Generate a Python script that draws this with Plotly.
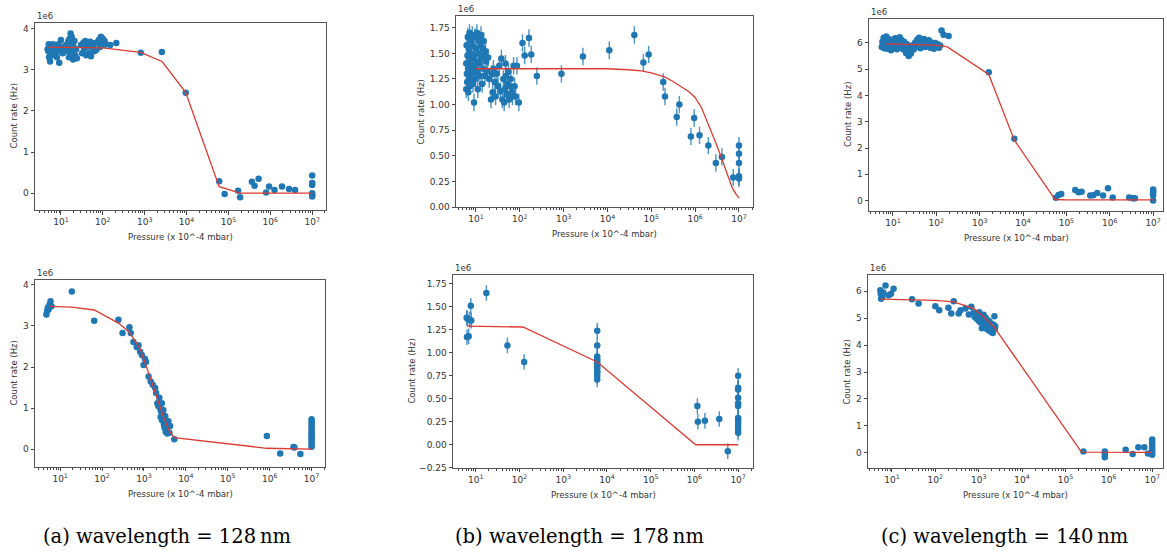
import plotly.graph_objects as go

# ---------------- data (count rate in units of 1e6 Hz, pressure in 10^-4 mbar) ----------------
# (a) wavelength = 128 nm, top
a1_x = [4.8, 5.0, 5.1, 5.2, 5.3, 5.4, 5.5, 5.6, 5.7, 5.8, 5.9, 6.1, 6.3, 6.5, 6.8, 7.0, 7.3, 7.6, 8.0, 8.4,
        8.8, 9.1, 9.5, 10.0, 10.5, 11.0,
        12, 13, 14, 15, 15.5, 16, 16.5, 17, 17.5, 18, 18.5, 19, 19.5, 20, 21, 22, 23, 24,
        30, 32, 34, 36, 38, 40, 42, 45, 48, 50, 52, 55, 58, 62, 66, 70,
        75, 80, 85, 90, 95, 100, 105, 110, 118,
        150, 210, 805, 2570, 9550,
        60000, 81000, 170000, 190000, 363000, 420000, 525000, 795000, 933000, 1.26e6, 1.9e6, 2.8e6, 3.9e6,
        1e7, 1e7, 1e7, 1e7, 1e7, 1e7]
a1_y = [3.5, 3.45, 3.62, 3.3, 3.55, 3.55, 3.2, 3.42, 3.6, 3.35, 3.4, 3.5, 3.35, 3.62, 3.45, 3.5, 3.4, 3.55, 3.3, 3.5,
        3.62, 3.17, 3.45, 3.72, 3.5, 3.4,
        3.55, 3.6, 3.45, 3.7, 3.3, 3.75, 3.5, 3.88, 3.6, 3.8, 3.4, 3.65, 3.25, 3.55, 3.7, 3.35, 3.5, 3.28,
        3.6, 3.4, 3.65, 3.5, 3.7, 3.35, 3.55, 3.62, 3.4, 3.68, 3.33, 3.55, 3.6, 3.45, 3.65, 3.48,
        3.65, 3.72, 3.55, 3.8, 3.68, 3.75, 3.6, 3.7, 3.62,
        3.6, 3.65, 3.41, 3.43, 2.44,
        0.29, -0.02, 0.06, -0.10, 0.28, 0.18, 0.35, 0.02, 0.16, 0.08, 0.16, 0.10, 0.08,
        0.43, 0.25, 0.20, 0.0, -0.05, -0.08]
a1_fit_x = [5, 100, 800, 2600, 9500, 60000, 190000, 1e6, 1e7]
a1_fit_y = [3.55, 3.53, 3.42, 3.2, 2.45, 0.16, 0.0, 0.0, 0.0]

# (b) wavelength = 178 nm, top
b1_x = [6.0, 6.0, 6.1, 6.2, 6.3, 6.4, 6.5, 6.6, 6.7, 6.8, 6.9, 7.0, 7.1, 7.2, 7.4, 7.5, 7.7, 7.8, 8.0, 8.2,
        8.3, 8.5, 8.7, 8.9, 9.0, 9.2, 9.4, 9.6, 9.8, 10, 10.3, 10.5, 10.8, 11, 11.3, 11.6, 12, 12.3, 12.7, 13,
        13.4, 13.8, 14.2, 14.6, 15, 15.5, 16, 16.5, 17, 18, 19, 20,
        22, 23, 24, 25, 27, 28, 30, 32, 34, 36, 38, 40, 42, 44, 45, 47, 48, 50, 52, 55, 57, 60, 62, 65, 68,
        72, 76, 80, 86, 95,
        115, 129, 162, 182, 245, 890, 2750, 11000, 41000, 66000, 87000, 187000, 205000, 380000, 436000,
        800000, 950000, 1.26e6, 2.0e6, 2.97e6, 4.07e6, 7.4e6, 1e7, 1e7, 1e7, 1e7, 1e7]
b1_y = [1.15, 1.40, 1.58, 1.30, 1.22, 1.48, 1.66, 1.35, 1.12, 1.55, 1.26, 1.42, 1.70, 1.18, 1.50, 1.33, 1.62, 1.24, 1.45, 1.68,
        1.38, 1.20, 1.57, 1.30, 1.02, 1.48, 1.66, 1.36, 1.25, 1.55, 1.42, 1.70, 1.32, 1.15, 1.50, 1.62, 1.40, 1.28, 1.58, 1.68,
        1.45, 1.20, 1.55, 1.35, 1.62, 1.48, 1.28, 1.52, 1.42, 1.33, 1.46, 1.25,
        1.05, 1.30, 1.12, 1.35, 1.22, 1.08, 1.30, 1.18, 1.38, 1.13, 1.45, 1.05, 1.25, 1.02, 1.15, 1.40, 1.28, 1.10, 1.20, 1.32, 1.05, 1.18, 1.25, 1.12, 1.08,
        1.38, 1.18, 1.08, 1.38, 1.02,
        1.60, 1.48, 1.65, 1.49, 1.28, 1.30, 1.47, 1.53, 1.68, 1.41, 1.49, 1.22, 1.08, 0.88, 1.00,
        0.69, 0.87, 0.70, 0.60, 0.43, 0.49, 0.29, 0.60, 0.52, 0.43, 0.30, 0.28]
b1_fit_x = [10, 100, 1e3, 1e4, 3e4, 6e4, 1e5, 1.5e5, 2e5, 3e5, 4e5, 5e5, 7e5, 1e6, 1.4e6, 2e6, 2.5e6, 3e6,
            4e6, 5e6, 6e6, 7e6, 8.5e6, 1e7]
b1_fit_y = [1.35, 1.35, 1.35, 1.35, 1.34, 1.33, 1.31, 1.29, 1.27, 1.23, 1.20, 1.17, 1.13, 1.07, 0.97, 0.81, 0.71, 0.62,
            0.48, 0.36, 0.27, 0.19, 0.13, 0.087]

# (c) wavelength = 140 nm, top
c1_x = [5.5, 5.7, 5.9, 6.1, 6.3, 6.5, 6.8, 7.0, 7.3, 7.6, 7.9, 8.2, 8.6, 9.0, 9.4, 9.8, 10.3, 10.8, 11.3, 11.8,
        12.4, 13, 13.6, 14.3, 15, 15.8, 16.5, 17.3, 18, 19, 20, 21, 22, 23, 24, 26, 28, 30, 32, 34,
        36, 38, 40, 43, 46, 49, 52, 55, 59, 63, 67, 72, 77, 82, 88, 94, 100, 108, 115, 123,
        132, 147, 192, 1620, 6300, 57000, 66000, 76000, 160000, 190000, 224000, 355000, 417000, 515000,
        700000, 910000, 1.17e6, 2.8e6, 3.4e6, 3.8e6, 1e7, 1e7, 1e7, 1e7, 1e7]
c1_y = [5.85, 6.05, 5.95, 6.20, 5.80, 6.10, 5.92, 6.25, 5.78, 6.00, 6.15, 5.85, 6.05, 5.72, 5.95, 6.12, 5.82, 6.02, 6.18, 5.90,
        5.76, 6.08, 5.95, 6.22, 5.85, 6.10, 5.98, 5.75, 6.05, 5.85, 5.62, 5.95, 5.70, 5.50, 5.80, 5.60, 5.90, 5.75, 6.00, 5.85,
        6.12, 5.92, 6.20, 5.80, 6.05, 5.95, 6.15, 5.85, 6.00, 5.90, 6.10, 5.82, 6.02, 5.95, 5.78, 6.00, 5.88, 5.95, 5.82, 5.90,
        6.48, 6.31, 6.27, 4.89, 2.35, 0.11, 0.21, 0.25, 0.40, 0.32, 0.34, 0.19, 0.20, 0.29,
        0.19, 0.47, 0.12, 0.12, 0.09, 0.09, 0.42, 0.35, 0.28, 0.20, 0.0]
c1_fit_x = [7, 20, 60, 120, 180, 1620, 6300, 55000, 1e5, 1e6, 1e7]
c1_fit_y = [5.97, 5.96, 5.93, 5.90, 5.85, 4.80, 2.30, 0.04, 0.03, 0.03, 0.03]

# (a) wavelength = 128 nm, bottom
a2_x = [4.7, 4.9, 5.1, 5.3, 5.6, 5.9, 6.2, 19, 65, 246, 309, 450, 485, 560, 670, 740, 810, 890, 980, 1050,
        1120, 1290, 1450, 1620, 1850, 1950, 2090, 2200, 2330, 2440, 2500, 2550, 2670, 2700, 2800, 2900, 2940,
        3000, 3100, 3220, 3300, 3380, 3520, 3600, 3700, 3820, 4050, 4200, 5300,
        857000, 1.78e6, 3.7e6, 3.9e6, 5.4e6,
        1e7, 1e7, 1e7, 1e7, 1e7, 1e7, 1e7, 1e7, 1e7, 1e7, 1e7, 1e7, 1e7, 1e7]
a2_y = [3.28, 3.37, 3.45, 3.40, 3.52, 3.60, 3.48, 3.84, 3.13, 3.15, 2.83, 2.97, 2.83, 2.61, 2.49, 2.53, 2.37, 2.29, 2.05, 2.20,
        2.13, 1.77, 1.65, 1.57, 1.49, 1.37, 1.12, 1.05, 1.25, 1.00, 0.78, 0.92, 1.12, 0.70, 0.88, 0.95, 0.72,
        0.60, 0.52, 0.80, 0.42, 0.64, 0.48, 0.38, 0.55, 0.68, 0.40, 0.56, 0.24,
        0.32, -0.11, 0.05, 0.04, -0.12,
        0.73, 0.68, 0.62, 0.55, 0.50, 0.45, 0.40, 0.35, 0.30, 0.25, 0.20, 0.15, 0.10, 0.06]
a2_fit_x = [5.5, 19, 65, 246, 450, 800, 1300, 2000, 3000, 4000, 5300, 857000, 1e7]
a2_fit_y = [3.48, 3.46, 3.39, 3.07, 2.85, 2.45, 1.85, 1.30, 0.75, 0.45, 0.28, 0.02, 0.0]

# (b) wavelength = 178 nm, bottom
b2_x = [6.2, 6.3, 6.5, 6.9, 7.3, 7.7, 7.9, 17.5, 53, 128,
        6000, 6000, 6000, 6000, 6000, 6000, 6000, 6000, 6000, 6000, 6000, 6000,
        1.17e6, 1.2e6, 1.74e6, 3.7e6, 5.8e6,
        1e7, 1e7, 1e7, 1e7, 1e7, 1e7, 1e7, 1e7, 1e7, 1e7, 1e7, 1e7]
b2_y = [1.38, 1.17, 1.37, 1.18, 1.36, 1.51, 1.35, 1.65, 1.08, 0.90,
        1.24, 1.08, 0.96, 0.93, 0.90, 0.88, 0.85, 0.83, 0.80, 0.78, 0.75, 0.71,
        0.42, 0.25, 0.26, 0.28, -0.07,
        0.75, 0.62, 0.60, 0.51, 0.45, 0.42, 0.29, 0.27, 0.24, 0.21, 0.17, 0.13]
b2_fit_x = [6.3, 120, 6000, 1.07e6, 1e7]
b2_fit_y = [1.29, 1.28, 0.90, 0.0, 0.0]

# (c) wavelength = 140 nm, bottom
c2_x = [5.4, 5.5, 5.6, 6.0, 6.3, 7.1, 8.4, 9.5, 10.9, 29, 41, 100, 123, 200, 233, 265, 345, 380, 495, 590, 675,
        760, 800, 850, 900, 950, 1000, 1030, 1080, 1120, 1180, 1200, 1250, 1300, 1350, 1400, 1450, 1500,
        1550, 1600, 1650, 1700, 1750, 1800, 1870, 1950, 2000, 2100, 2200, 2300, 2350, 2400,
        2.6e5, 8.1e5, 8.1e5, 8.1e5, 2.45e6, 3.55e6, 4.8e6, 6.6e6, 8e6,
        1e7, 1e7, 1e7, 1e7, 1e7, 1e7, 1e7, 1e7]
c2_y = [6.03, 5.90, 5.72, 5.78, 5.95, 6.21, 5.85, 5.90, 6.09, 5.70, 5.54, 5.44, 5.29, 5.38, 5.17, 5.62, 5.17, 5.29, 5.36, 5.13, 5.42,
        5.20, 5.05, 5.15, 4.98, 5.10, 4.90, 5.22, 4.85, 5.05, 4.62, 4.95, 4.78, 5.12, 4.88, 4.70, 5.00, 4.82,
        4.60, 4.92, 4.75, 4.55, 4.88, 4.68, 4.50, 4.80, 4.62, 4.45, 4.75, 5.07, 4.60, 4.70,
        0.05, 0.05, -0.04, -0.16, 0.12, -0.04, 0.21, 0.21, -0.02,
        0.50, 0.44, 0.36, 0.26, 0.16, 0.08, 0.0, -0.07]
c2_fit_x = [5.4, 31, 100, 265, 760, 1200, 2190, 2.35e5, 1e6, 1e7]
c2_fit_y = [5.70, 5.69, 5.66, 5.60, 5.36, 5.10, 4.70, 0.03, 0.02, 0.02]

# tick labels
x_tickvals = [10, 100, 1e3, 1e4, 1e5, 1e6, 1e7]
x_ticktext = ["10<sup>1</sup>", "10<sup>2</sup>", "10<sup>3</sup>", "10<sup>4</sup>",
              "10<sup>5</sup>", "10<sup>6</sup>", "10<sup>7</sup>"]
y_ticks_int4 = [0, 1, 2, 3, 4]
y_ticks_int6 = [0, 1, 2, 3, 4, 5, 6]
y_ticks_b1 = [0.0, 0.25, 0.5, 0.75, 1.0, 1.25, 1.5, 1.75]
y_ticks_b2 = [-0.25, 0.0, 0.25, 0.5, 0.75, 1.0, 1.25, 1.5, 1.75]

x_title = "Pressure (x 10^-4 mbar)"
y_title = "Count rate (Hz)"
offset_text = "1e6"
captions = ["(a) wavelength = 128\u2009nm", "(b) wavelength = 178\u2009nm", "(c) wavelength = 140\u2009nm"]

# ---------------- layout of panels ----------------
W, H = 1167, 553
def px_dom(x0, x1, y0, y1):
    return [x0 / W, x1 / W], [1 - y1 / H, 1 - y0 / H]

def fmt_tick(v, dec):
    s = f"{v:.{dec}f}"
    return s.replace("-", "\u2212")

panels = [
    dict(x=a1_x, y=a1_y, fx=a1_fit_x, fy=a1_fit_y, box=(35, 326, 23, 212), xr=[0.38, 7.33], yr=[-0.41, 4.14],
         yt=y_ticks_int4, dec=0, err=0.05, ytshift=-21),
    dict(x=b1_x, y=b1_y, fx=b1_fit_x, fy=b1_fit_y, box=(456, 753, 16, 209), xr=[0.544, 7.32], yr=[0.0, 1.866],
         yt=y_ticks_b1, dec=2, err=0.085, ytshift=-35),
    dict(x=c1_x, y=c1_y, fx=c1_fit_x, fy=c1_fit_y, box=(869, 1163, 19, 213), xr=[0.447, 7.228], yr=[-0.40, 6.92],
         yt=y_ticks_int6, dec=0, err=0.08, ytshift=-21),
    dict(x=a2_x, y=a2_y, fx=a2_fit_x, fy=a2_fit_y, box=(35, 325, 283, 471), xr=[0.40, 7.32], yr=[-0.43, 4.11],
         yt=y_ticks_int4, dec=0, err=0.05, ytshift=-21),
    dict(x=b2_x, y=b2_y, fx=b2_fit_x, fy=b2_fit_y, box=(453, 753, 278, 472), xr=[0.48, 7.34], yr=[-0.25, 1.84],
         yt=y_ticks_b2, dec=2, err=0.085, ytshift=-41),
    dict(x=c2_x, y=c2_y, fx=c2_fit_x, fy=c2_fit_y, box=(868, 1163, 278, 472), xr=[0.447, 7.25], yr=[-0.55, 6.58],
         yt=y_ticks_int6, dec=0, err=0.08, ytshift=-21),
]

minor_vals = [k * 10 ** n for n in range(0, 8) for k in range(2, 10)]

BLUE = "#1f77b4"
RED = "#dc3b32"
TXT = "#333333"
FONT = "DejaVu Sans"

fig = go.Figure()
annotations = []
layout = dict(width=W, height=H, margin=dict(l=0, r=0, t=0, b=0),
              paper_bgcolor="white", plot_bgcolor="white", showlegend=False)

for i, p in enumerate(panels, start=1):
    sfx = "" if i == 1 else str(i)
    xd, yd = px_dom(*p["box"])
    fig.add_trace(go.Scatter(
        x=p["x"], y=p["y"], mode="markers", xaxis="x" + sfx, yaxis="y" + sfx,
        marker=dict(color=BLUE, size=6.5, line=dict(width=0)),
        error_y=dict(type="constant", value=p["err"], thickness=1.4, width=0, color="rgba(31,119,180,0.8)"),
    ))
    fig.add_trace(go.Scatter(
        x=p["fx"], y=p["fy"], mode="lines", xaxis="x" + sfx, yaxis="y" + sfx,
        line=dict(color=RED, width=1.3),
    ))
    layout["xaxis" + sfx] = dict(
        type="log", domain=xd, range=p["xr"], anchor="y" + sfx,
        tickmode="array", tickvals=x_tickvals, ticktext=x_ticktext,
        ticks="outside", ticklen=3.5, tickwidth=0.8, tickcolor="#444",
        minor=dict(tickmode="array", tickvals=minor_vals, ticks="outside", ticklen=2, tickwidth=0.6, tickcolor="#444"),
        showline=True, mirror=True, linecolor="#555", linewidth=1,
        showgrid=False, zeroline=False,
        tickfont=dict(family=FONT, size=9, color=TXT),
    )
    layout["yaxis" + sfx] = dict(
        domain=yd, range=p["yr"], anchor="x" + sfx,
        tickmode="array", tickvals=p["yt"], ticktext=[fmt_tick(v, p["dec"]) for v in p["yt"]],
        ticks="outside", ticklen=3.5, tickwidth=0.8, tickcolor="#444",
        showline=True, mirror=True, linecolor="#555", linewidth=1,
        showgrid=False, zeroline=False,
        tickfont=dict(family=FONT, size=9, color=TXT),
    )
    xref = ("x" + sfx) + " domain"
    yref = ("y" + sfx) + " domain"
    annotations.append(dict(text=x_title, xref=xref, yref=yref, x=0.5, y=0, xanchor="center", yanchor="middle",
                            yshift=-27, showarrow=False, font=dict(family=FONT, size=8.5, color=TXT)))
    annotations.append(dict(text=y_title, xref=xref, yref=yref, x=0, y=0.5, xanchor="center", yanchor="middle",
                            xshift=p["ytshift"], textangle=-90, showarrow=False,
                            font=dict(family=FONT, size=8.5, color=TXT)))
    annotations.append(dict(text=offset_text, xref=xref, yref=yref, x=0, y=1, xanchor="left", yanchor="bottom",
                            yshift=0, showarrow=False, font=dict(family=FONT, size=8.5, color=TXT)))

cap_centers = [166.5, 579.5, 1004.5]
for c, cx in zip(captions, cap_centers):
    annotations.append(dict(text=c, xref="paper", yref="paper", x=cx / W, y=1 - 541 / H,
                            xanchor="center", yanchor="middle", showarrow=False,
                            font=dict(family="DejaVu Serif", size=19.5, color="black")))

layout["annotations"] = annotations
fig.update_layout(**layout)
fig.write_html("out.html")
